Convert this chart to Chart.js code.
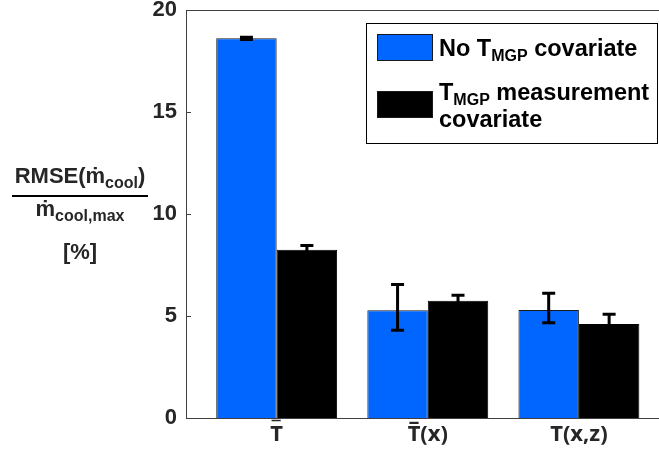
<!DOCTYPE html>
<html>
<head>
<meta charset="utf-8">
<script src="https://cdn.jsdelivr.net/npm/chart.js@4.4.1/dist/chart.umd.min.js"></script>
<style>
  html, body { margin: 0; padding: 0; background: #ffffff; overflow: hidden; }
  #wrap { width: 659px; height: 456px; position: relative; }
</style>
</head>
<body>
<div id="wrap"><canvas id="chart" width="659" height="456"></canvas></div>
<script>
// Temperature-input variants on the x axis
const categories = ['T\u033F', 'T\u0305(x)', 'T(x,z)'];
const categoryPositions = [1, 2, 3];

// RMSE of cooling mass flow, % of max
const noCovariate = [18.61, 5.28, 5.29];
const noCovariateErrUp = [0.05, 1.27, 0.83];
const noCovariateErrDown = [0.05, 0.98, 0.62];

const measCovariate = [8.25, 5.75, 4.61];
const measCovariateErrUp = [0.20, 0.27, 0.47];
const measCovariateErrDown = [0.20, 0.27, 0.47];

const yTicks = [0, 5, 10, 15, 20];

// Series names; _{...} marks a subscript, \n a line break
const seriesLabels = ['No T_{MGP} covariate', 'T_{MGP} measurement\ncovariate'];

const BLUE = '#0066ff';
const AXIS = '#404040';
const TEXT = '#262626';
const FONT = '"Liberation Sans", Arial, sans-serif';

// Split "a_{b}c" into [{t:'a'},{t:'b',sub:true},{t:'c'}]
function parseRich(str) {
  const parts = [];
  const re = /_\{([^}]*)\}/g;
  let last = 0, m;
  while ((m = re.exec(str)) !== null) {
    if (m.index > last) parts.push({ t: str.slice(last, m.index) });
    parts.push({ t: m[1], sub: true });
    last = re.lastIndex;
  }
  if (last < str.length) parts.push({ t: str.slice(last) });
  return parts;
}

function richWidth(ctx, parts, size, subSize) {
  let w = 0;
  for (const p of parts) {
    ctx.font = 'bold ' + (p.sub ? subSize : size) + 'px ' + FONT;
    w += ctx.measureText(p.t).width;
  }
  return w;
}

function drawRich(ctx, parts, x, y, size, subSize, subDy) {
  let cx = x;
  ctx.textBaseline = 'alphabetic';
  ctx.textAlign = 'left';
  for (const p of parts) {
    ctx.font = 'bold ' + (p.sub ? subSize : size) + 'px ' + FONT;
    ctx.fillText(p.t, cx, p.sub ? y + subDy : y);
    cx += ctx.measureText(p.t).width;
  }
  return cx;
}

// Error bars, box frame, inward ticks, y title and legend
const decorations = {
  id: 'decorations',
  afterDatasetsDraw(chart) {
    const ctx = chart.ctx;
    const ys = chart.scales.y;
    const errs = [[noCovariateErrUp, noCovariateErrDown], [measCovariateErrUp, measCovariateErrDown]];
    ctx.save();
    ctx.strokeStyle = '#000000';
    ctx.lineWidth = 3;
    chart.data.datasets.forEach((ds, d) => {
      const meta = chart.getDatasetMeta(d);
      meta.data.forEach((bar, i) => {
        const v = ds.data[i].y;
        const yTop = ys.getPixelForValue(v + errs[d][0][i]);
        const yBot = ys.getPixelForValue(v - errs[d][1][i]);
        const x = bar.x;
        const cap = 6.5;
        ctx.beginPath();
        ctx.moveTo(x, yTop); ctx.lineTo(x, yBot);
        ctx.moveTo(x - cap, yTop); ctx.lineTo(x + cap, yTop);
        ctx.moveTo(x - cap, yBot); ctx.lineTo(x + cap, yBot);
        ctx.stroke();
      });
    });
    ctx.restore();
  },
  afterDraw(chart) {
    const ctx = chart.ctx;
    const a = chart.chartArea;
    const ys = chart.scales.y;
    ctx.save();

    // top frame line
    ctx.strokeStyle = AXIS;
    ctx.lineWidth = 1;
    ctx.beginPath();
    ctx.moveTo(a.left, Math.round(a.top) + 0.5);
    ctx.lineTo(a.right, Math.round(a.top) + 0.5);
    ctx.stroke();

    // inward y ticks
    ctx.beginPath();
    yTicks.forEach(t => {
      const py = Math.round(ys.getPixelForValue(t)) + 0.5;
      ctx.moveTo(a.left, py);
      ctx.lineTo(a.left + 5, py);
    });
    ctx.stroke();

    // y-axis title as a fraction
    ctx.fillStyle = TEXT;
    const cx = 80;
    const num = [{ t: 'RMSE(\u1E41' }, { t: 'cool', sub: true }, { t: ')' }];
    const den = [{ t: '\u1E41' }, { t: 'cool,max', sub: true }];
    const wNum = richWidth(ctx, num, 22, 16);
    drawRich(ctx, num, cx - wNum / 2, 183, 22, 16, 5);
    ctx.strokeStyle = '#000000';
    ctx.lineWidth = 2;
    ctx.beginPath();
    ctx.moveTo(12, 196); ctx.lineTo(148, 196);
    ctx.stroke();
    const wDen = richWidth(ctx, den, 22, 16);
    drawRich(ctx, den, cx - wDen / 2, 216, 22, 16, 5);
    const pct = [{ t: '[%]' }];
    const wPct = richWidth(ctx, pct, 22, 16);
    drawRich(ctx, pct, cx - wPct / 2, 259, 22, 16, 5);

    // legend
    const box = { l: 366, t: 23, r: 657, b: 143 };
    ctx.fillStyle = '#ffffff';
    ctx.fillRect(box.l, box.t, box.r - box.l, box.b - box.t);
    ctx.strokeStyle = '#000000';
    ctx.lineWidth = 1;
    ctx.strokeRect(box.l + 0.5, box.t + 0.5, box.r - box.l, box.b - box.t);

    const swatchY = [34, 91];
    const baselines = [[56], [100, 127]];
    chart.data.datasets.forEach((ds, d) => {
      ctx.fillStyle = ds.backgroundColor;
      ctx.fillRect(377, swatchY[d], 56, 27);
      ctx.strokeStyle = '#1a1a1a';
      ctx.lineWidth = 1;
      ctx.strokeRect(377.5, swatchY[d] + 0.5, 55, 26);
      ctx.fillStyle = '#000000';
      ds.label.split('\n').forEach((line, k) => {
        drawRich(ctx, parseRich(line), 439, baselines[d][k], 23.5, 16, 5);
      });
    });
    ctx.restore();
  }
};

const toPoints = vals => categoryPositions.map((x, i) => ({ x: x, y: vals[i] }));

new Chart(document.getElementById('chart'), {
  type: 'bar',
  data: {
    datasets: [
      {
        label: seriesLabels[0],
        data: toPoints(noCovariate),
        backgroundColor: BLUE,
        borderColor: '#1a1a1a',
        borderWidth: 1,
        categoryPercentage: 0.8,
        barPercentage: 1.0
      },
      {
        label: seriesLabels[1],
        data: toPoints(measCovariate),
        backgroundColor: '#000000',
        borderColor: '#000000',
        borderWidth: 1,
        categoryPercentage: 0.8,
        barPercentage: 1.0
      }
    ]
  },
  options: {
    responsive: false,
    animation: false,
    events: [],
    layout: { padding: { left: 0, right: 0, top: 10, bottom: 0 } },
    plugins: { legend: { display: false }, tooltip: { enabled: false } },
    scales: {
      x: {
        type: 'linear',
        offset: false,
        min: 0.4,
        max: 3.53,
        afterBuildTicks: s => { s.ticks = categoryPositions.map(v => ({ value: v })); },
        afterFit: s => { s.height = 38; },
        ticks: {
          callback: v => categories[categoryPositions.indexOf(v)] || '',
          font: { family: '"Noto Sans", "DejaVu Sans", sans-serif', size: 22, weight: 'bold' },
          color: TEXT,
          padding: 4,
          maxRotation: 0,
          autoSkip: false
        },
        grid: { display: false, drawTicks: false, offset: false },
        border: { display: true, color: AXIS, width: 1 }
      },
      y: {
        min: 0,
        max: 20,
        afterBuildTicks: s => { s.ticks = yTicks.map(v => ({ value: v })); },
        afterFit: s => { s.width = 186; },
        ticks: {
          font: { family: FONT, size: 22, weight: 'bold', lineHeight: 0.05 },
          color: TEXT,
          padding: 9
        },
        grid: { display: false, drawTicks: false },
        border: { display: true, color: AXIS, width: 1 }
      }
    }
  },
  plugins: [decorations]
});
</script>
</body>
</html>
